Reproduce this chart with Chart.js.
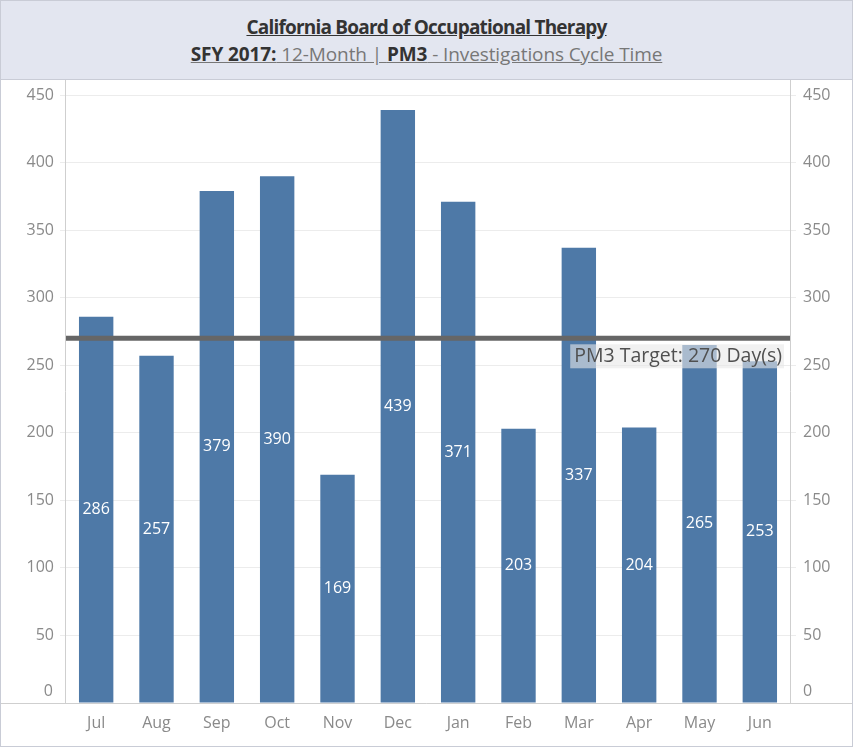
<!DOCTYPE html>
<html>
<head>
<meta charset="utf-8">
<script src="https://cdn.jsdelivr.net/npm/chart.js@4"></script>
<style>
  html, body { margin: 0; padding: 0; background: #fff; }
  #wrap { position: relative; width: 851px; height: 745px; border: 1px solid #c9ccd6; overflow: hidden; }
  #head { height: 78px; background: #e3e6f0; border-bottom: 1px solid #c9ccd6; text-align: center; font-family: "Open Sans", sans-serif; color: #333; }
  #head .t1 { padding-top: 13px; font-size: 19px; line-height: 26px; font-weight: bold; letter-spacing: -0.8px; text-decoration: underline; }
  #head .t2 { margin-top: 1px; font-size: 19px; line-height: 26px; color: #777; letter-spacing: -0.1px; text-decoration: underline; }
  #head .t2 b { color: #333; }
  #box { position: absolute; left: 0; top: 79px; width: 851px; height: 666px; }
</style>
</head>
<body>
<div id="wrap">
  <div id="head">
    <div class="t1">California Board of Occupational Therapy</div>
    <div class="t2"><b>SFY 2017:</b> 12-Month | <b>PM3</b> - Investigations Cycle Time</div>
  </div>
  <div id="box"><canvas id="chart" width="851" height="666"></canvas></div>
</div>
<script>
// months of the state fiscal year and the cycle time (days) per month
var months = ["Jul", "Aug", "Sep", "Oct", "Nov", "Dec", "Jan", "Feb", "Mar", "Apr", "May", "Jun"];
var cycleDays = [286, 257, 379, 390, 169, 439, 371, 203, 337, 204, 265, 253];
var targetDays = 270;
var targetLabel = "PM3 Target: 270 Day(s)";
var yTicks = [0, 50, 100, 150, 200, 250, 300, 350, 400, 450];

var tickColor = "#8a8a8a";
var gridColor = "#ececec";
var fontFam = "'Open Sans', sans-serif";

// white value labels centred inside each bar
var valueLabels = {
  id: "valueLabels",
  afterDatasetsDraw: function(chart) {
    var ctx = chart.ctx;
    var meta = chart.getDatasetMeta(0);
    ctx.save();
    ctx.font = "16px " + fontFam;
    ctx.fillStyle = "#ffffff";
    ctx.textAlign = "center";
    ctx.textBaseline = "middle";
    meta.data.forEach(function(bar, i) {
      ctx.fillText(String(cycleDays[i]), bar.x, (bar.y + bar.base) / 2);
    });
    ctx.restore();
  }
};

// target reference line with its label box
var targetLine = {
  id: "targetLine",
  afterDatasetsDraw: function(chart) {
    var ctx = chart.ctx, a = chart.chartArea;
    var y = chart.scales.y.getPixelForValue(targetDays);
    ctx.save();
    ctx.strokeStyle = "#666666";
    ctx.lineWidth = 5;
    ctx.beginPath();
    ctx.moveTo(a.left, y);
    ctx.lineTo(a.right, y);
    ctx.stroke();
    ctx.font = "19.5px " + fontFam;
    var w = ctx.measureText(targetLabel).width + 6;
    var x1 = a.right - 6;
    ctx.fillStyle = "rgba(232,232,232,0.6)";
    ctx.fillRect(x1 - w, y + 6, w, 24);
    ctx.fillStyle = "#505050";
    ctx.textAlign = "right";
    ctx.textBaseline = "middle";
    ctx.fillText(targetLabel, x1 - 2, y + 18);
    ctx.restore();
  }
};

// panel borders, the line under the plot and the zero labels nudged up inside the pane
var frame = {
  id: "frame",
  afterDraw: function(chart) {
    var ctx = chart.ctx, a = chart.chartArea;
    ctx.save();
    ctx.strokeStyle = "#cfcfcf";
    ctx.lineWidth = 1;
    ctx.beginPath();
    ctx.moveTo(a.left - 0.5, 0); ctx.lineTo(a.left - 0.5, a.bottom);
    ctx.moveTo(a.right + 0.5, 0); ctx.lineTo(a.right + 0.5, a.bottom);
    ctx.moveTo(0, a.bottom + 0.5); ctx.lineTo(chart.width, a.bottom + 0.5);
    ctx.stroke();
    ctx.font = "16px " + fontFam;
    ctx.fillStyle = tickColor;
    ctx.textBaseline = "middle";
    ctx.textAlign = "right";
    ctx.fillText(String(yTicks[0]), a.left - 13, a.bottom - 12);
    ctx.textAlign = "left";
    ctx.fillText(String(yTicks[0]), a.right + 13, a.bottom - 12);
    ctx.restore();
  }
};

function fixWidth(w) { return function(s) { s.width = w; s.paddingTop = 0; s.paddingBottom = 0; }; }
function keepTicks(s) { s.ticks = yTicks.map(function(v) { return { value: v }; }); }
function hideZero(v) { return v === 0 ? "" : v; }

new Chart(document.getElementById("chart"), {
  type: "bar",
  data: {
    labels: months,
    datasets: [{
      data: cycleDays,
      backgroundColor: "#4e79a7",
      barPercentage: 0.57,
      categoryPercentage: 1
    }]
  },
  options: {
    responsive: false,
    animation: false,
    devicePixelRatio: 1,
    layout: { padding: { top: 3, bottom: 0, left: 0, right: 0 } },
    plugins: { legend: { display: false }, tooltip: { enabled: false } },
    scales: {
      x: {
        grid: { display: false, drawTicks: false },
        border: { display: false },
        afterFit: function(s) { s.height = 43; s.paddingLeft = 0; s.paddingRight = 0; },
        ticks: { color: tickColor, font: { family: fontFam, size: 16 }, padding: 11, maxRotation: 0 }
      },
      y: {
        min: 0, max: 459,
        afterFit: fixWidth(65),
        afterBuildTicks: keepTicks,
        grid: { color: gridColor, drawTicks: true, tickLength: 6, tickColor: gridColor },
        border: { display: false },
        ticks: { color: tickColor, font: { family: fontFam, size: 16 }, padding: 6, callback: hideZero }
      },
      y2: {
        position: "right",
        min: 0, max: 459,
        afterFit: fixWidth(62),
        afterBuildTicks: keepTicks,
        grid: { drawOnChartArea: false, drawTicks: true, tickLength: 6, tickColor: gridColor },
        border: { display: false },
        ticks: { color: tickColor, font: { family: fontFam, size: 16 }, padding: 7, callback: hideZero }
      }
    }
  },
  plugins: [valueLabels, targetLine, frame]
});
</script>
</body>
</html>
